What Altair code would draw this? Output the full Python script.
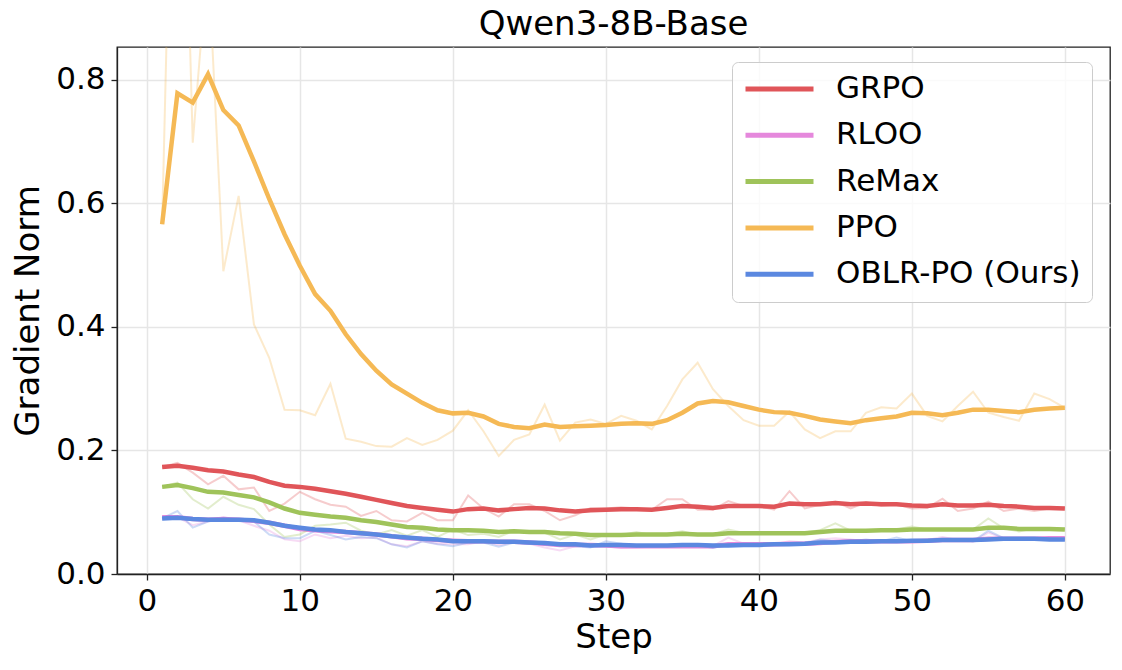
import altair as alt
import pandas as pd

steps = list(range(1, 61))
methods = ["GRPO", "RLOO", "ReMax", "PPO", "OBLR-PO (Ours)"]
colors = ["#e05559", "#e588dc", "#9fc35a", "#f5b955", "#5b88e0"]

grpo_raw = [0.173, 0.180, 0.164, 0.145, 0.159, 0.137, 0.140, 0.102, 0.114, 0.133,
            0.121, 0.112, 0.109, 0.094, 0.102, 0.087, 0.085, 0.099, 0.087, 0.087,
            0.127, 0.106, 0.093, 0.113, 0.113, 0.102, 0.087, 0.095, 0.107, 0.106,
            0.108, 0.106, 0.104, 0.121, 0.121, 0.104, 0.104, 0.118, 0.110, 0.110,
            0.104, 0.134, 0.106, 0.112, 0.117, 0.106, 0.116, 0.110, 0.113, 0.106,
            0.107, 0.122, 0.102, 0.106, 0.117, 0.102, 0.106, 0.102, 0.106, 0.106]
grpo_smooth = [0.173, 0.175, 0.172, 0.168, 0.166, 0.161, 0.157, 0.149, 0.143, 0.141,
               0.138, 0.134, 0.130, 0.125, 0.120, 0.115, 0.110, 0.107, 0.104, 0.101,
               0.105, 0.106, 0.103, 0.105, 0.107, 0.106, 0.103, 0.101, 0.103, 0.104,
               0.105, 0.105, 0.104, 0.107, 0.110, 0.109, 0.107, 0.110, 0.110, 0.110,
               0.109, 0.114, 0.113, 0.113, 0.115, 0.113, 0.114, 0.113, 0.113, 0.111,
               0.110, 0.113, 0.111, 0.111, 0.112, 0.110, 0.109, 0.107, 0.107, 0.106]

rloo_raw = [0.092, 0.092, 0.079, 0.085, 0.092, 0.087, 0.078, 0.070, 0.056, 0.053,
            0.064, 0.058, 0.062, 0.058, 0.059, 0.048, 0.045, 0.053, 0.049, 0.048,
            0.048, 0.053, 0.047, 0.051, 0.049, 0.043, 0.038, 0.045, 0.048, 0.045,
            0.042, 0.043, 0.044, 0.044, 0.045, 0.048, 0.045, 0.059, 0.049, 0.048,
            0.048, 0.053, 0.051, 0.056, 0.058, 0.056, 0.053, 0.053, 0.053, 0.053,
            0.055, 0.060, 0.055, 0.053, 0.067, 0.058, 0.056, 0.056, 0.060, 0.059]
rloo_smooth = [0.092, 0.092, 0.089, 0.088, 0.089, 0.088, 0.086, 0.083, 0.078, 0.073,
               0.071, 0.069, 0.068, 0.066, 0.064, 0.061, 0.058, 0.057, 0.055, 0.054,
               0.053, 0.053, 0.052, 0.052, 0.051, 0.049, 0.047, 0.047, 0.047, 0.046,
               0.045, 0.045, 0.045, 0.045, 0.045, 0.045, 0.045, 0.048, 0.048, 0.048,
               0.048, 0.049, 0.049, 0.050, 0.052, 0.053, 0.053, 0.053, 0.053, 0.053,
               0.054, 0.055, 0.055, 0.055, 0.057, 0.057, 0.057, 0.057, 0.058, 0.058]

remax_raw = [0.141, 0.148, 0.121, 0.106, 0.125, 0.112, 0.105, 0.080, 0.060, 0.064,
             0.078, 0.080, 0.083, 0.070, 0.064, 0.071, 0.062, 0.071, 0.060, 0.072,
             0.063, 0.065, 0.060, 0.070, 0.069, 0.067, 0.056, 0.064, 0.056, 0.064,
             0.063, 0.068, 0.063, 0.065, 0.069, 0.063, 0.064, 0.072, 0.067, 0.067,
             0.065, 0.065, 0.067, 0.071, 0.082, 0.070, 0.071, 0.071, 0.072, 0.077,
             0.072, 0.072, 0.071, 0.072, 0.090, 0.074, 0.069, 0.074, 0.073, 0.072]
remax_smooth = [0.141, 0.144, 0.139, 0.133, 0.132, 0.128, 0.124, 0.116, 0.106, 0.099,
                0.096, 0.093, 0.091, 0.087, 0.084, 0.080, 0.076, 0.075, 0.072, 0.071,
                0.071, 0.070, 0.068, 0.069, 0.068, 0.068, 0.066, 0.065, 0.063, 0.063,
                0.063, 0.064, 0.064, 0.064, 0.065, 0.064, 0.064, 0.066, 0.066, 0.066,
                0.066, 0.066, 0.066, 0.068, 0.070, 0.070, 0.070, 0.071, 0.071, 0.072,
                0.072, 0.072, 0.072, 0.072, 0.075, 0.075, 0.073, 0.073, 0.073, 0.072]

ppo_raw = [0.566, 1.600, 0.698, 1.000, 0.490, 0.612, 0.404, 0.350, 0.266, 0.265,
           0.257, 0.308, 0.219, 0.214, 0.207, 0.206, 0.220, 0.209, 0.217, 0.232,
           0.265, 0.231, 0.191, 0.217, 0.226, 0.274, 0.216, 0.245, 0.250, 0.243,
           0.256, 0.248, 0.234, 0.272, 0.315, 0.342, 0.299, 0.272, 0.249, 0.240,
           0.240, 0.263, 0.234, 0.220, 0.231, 0.231, 0.261, 0.270, 0.268, 0.292,
           0.256, 0.247, 0.272, 0.295, 0.261, 0.254, 0.248, 0.292, 0.283, 0.269]
ppo_smooth = [0.566, 0.778, 0.763, 0.809, 0.751, 0.726, 0.668, 0.607, 0.550, 0.499,
              0.453, 0.426, 0.388, 0.356, 0.329, 0.307, 0.292, 0.277, 0.265, 0.260,
              0.261, 0.255, 0.243, 0.238, 0.236, 0.242, 0.238, 0.239, 0.240, 0.241,
              0.243, 0.244, 0.243, 0.249, 0.261, 0.276, 0.280, 0.278, 0.272, 0.266,
              0.262, 0.261, 0.256, 0.250, 0.247, 0.244, 0.249, 0.252, 0.255, 0.261,
              0.260, 0.257, 0.261, 0.266, 0.266, 0.264, 0.262, 0.266, 0.268, 0.269]

oblr_raw = [0.090, 0.102, 0.075, 0.085, 0.090, 0.088, 0.085, 0.064, 0.058, 0.058,
            0.070, 0.063, 0.056, 0.060, 0.058, 0.048, 0.043, 0.053, 0.048, 0.045,
            0.051, 0.051, 0.044, 0.051, 0.049, 0.048, 0.046, 0.045, 0.043, 0.053,
            0.049, 0.045, 0.046, 0.047, 0.048, 0.047, 0.042, 0.048, 0.048, 0.049,
            0.049, 0.049, 0.049, 0.056, 0.053, 0.053, 0.056, 0.053, 0.059, 0.053,
            0.055, 0.056, 0.055, 0.053, 0.070, 0.058, 0.056, 0.056, 0.058, 0.056]
oblr_smooth = [0.090, 0.091, 0.089, 0.088, 0.088, 0.088, 0.087, 0.083, 0.078, 0.075,
               0.072, 0.071, 0.068, 0.066, 0.064, 0.061, 0.059, 0.057, 0.056, 0.053,
               0.053, 0.053, 0.052, 0.052, 0.051, 0.050, 0.048, 0.048, 0.046, 0.047,
               0.047, 0.046, 0.046, 0.046, 0.047, 0.047, 0.046, 0.046, 0.047, 0.047,
               0.048, 0.048, 0.049, 0.051, 0.051, 0.052, 0.052, 0.053, 0.053, 0.054,
               0.054, 0.055, 0.055, 0.055, 0.056, 0.057, 0.057, 0.057, 0.056, 0.056]

x_ticks = [0, 10, 20, 30, 40, 50, 60]
y_ticks = [0.0, 0.2, 0.4, 0.6, 0.8]

raws = [grpo_raw, rloo_raw, remax_raw, ppo_raw, oblr_raw]
smooths = [grpo_smooth, rloo_smooth, remax_smooth, ppo_smooth, oblr_smooth]

rows = []
for m, raw, sm in zip(methods, raws, smooths):
    for s, r, v in zip(steps, raw, sm):
        rows.append({"step": s, "method": m, "raw": r, "smooth": v})
df = pd.DataFrame(rows)

FONT = "DejaVu Sans"
xscale = alt.Scale(domain=[-1.95, 62.95], nice=False, zero=False)
yscale = alt.Scale(domain=[0, 0.853], nice=False, zero=False)
cscale = alt.Scale(domain=methods, range=colors)

xaxis = alt.Axis(values=x_ticks, title="Step", format="d")
yaxis = alt.Axis(values=y_ticks, title="Gradient Norm", format=".1f")

legend = alt.Legend(
    title=None, orient="none", legendX=615, legendY=15,
    symbolType="stroke", symbolSize=4624, symbolStrokeWidth=5,
    symbolOpacity=1, clipHeight=32, rowPadding=14.3, labelOffset=20,
    labelFontSize=31, labelFont=FONT, labelColor="black",
    padding=11, fillColor="rgba(255,255,255,0.8)", strokeColor="#cccccc",
    cornerRadius=6, labelLimit=400,
)

layers = []
for m, c in zip(methods, colors):
    base = alt.Chart(df).transform_filter(alt.datum.method == m)
    layers.append(
        base.mark_line(strokeWidth=2, opacity=0.3, clip=True, color=c).encode(
            x=alt.X("step:Q", scale=xscale, axis=xaxis),
            y=alt.Y("raw:Q", scale=yscale, axis=yaxis),
        )
    )
    layers.append(
        base.mark_line(strokeWidth=4.5, clip=True).encode(
            x=alt.X("step:Q", scale=xscale, axis=xaxis),
            y=alt.Y("smooth:Q", scale=yscale, axis=yaxis),
            color=alt.Color("method:N", scale=cscale, legend=legend),
        )
    )

chart = alt.layer(*layers).properties(
    width=993, height=527,
    autosize=alt.AutoSizeParams(type="none"),
    padding={"left": 109, "top": 39, "right": 4, "bottom": 80},
    title=alt.TitleParams("Qwen3-8B-Base", fontSize=34, font=FONT,
                          fontWeight="normal", color="black", anchor="middle",
                          offset=8, dy=3),
).configure_view(
    stroke="#222222", strokeWidth=1.3
).configure_axis(
    grid=True, gridColor="#e6e6e6", gridWidth=1.5,
    domainColor="#222222", domainWidth=1.3,
    tickColor="#222222", tickWidth=1.3, tickSize=6,
    labelFont=FONT, labelFontSize=31, labelColor="black",
    titleFont=FONT, titleFontSize=34, titleColor="black", titleFontWeight="normal",
).configure_axisX(
    labelPadding=6, titlePadding=4,
).configure_axisY(
    labelPadding=6, titlePadding=10,
)

chart.save("out.html", embed_options={"renderer": "svg", "actions": False})
